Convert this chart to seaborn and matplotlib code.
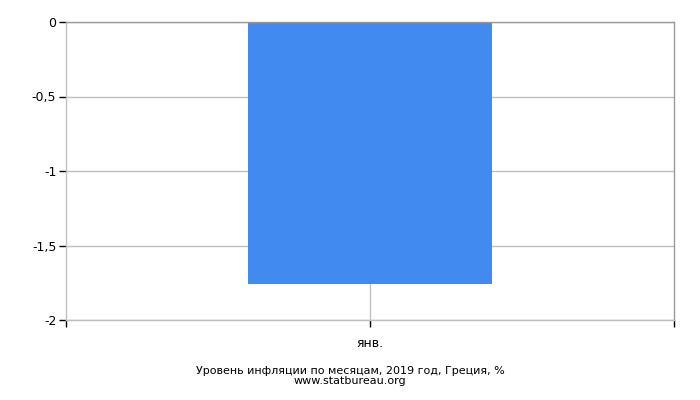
import matplotlib
matplotlib.use("Agg")
import matplotlib.pyplot as plt
import seaborn as sns
import pandas as pd

# data
months = ['янв.']
inflation = [-1.76]
y_ticks = [0, -0.5, -1, -1.5, -2]
y_labels = ['0', '-0,5', '-1', '-1,5', '-2']

sns.set_style('white')
plt.rcParams['font.family'] = ['DejaVu Sans']
plt.rcParams['text.color'] = 'black'

df = pd.DataFrame({'month': months, 'value': inflation})

fig = plt.figure(figsize=(7, 4), dpi=100)
ax = fig.add_axes([66/700, 80/400, 608/700, 298/400])

sns.barplot(data=df, x='month', y='value', color='#418bf0', saturation=1,
            width=0.4, linewidth=0, ax=ax, zorder=2)

ax.set_xlim(-0.5, 0.5)
ax.set_ylim(-2, 0)
ax.set_yticks(y_ticks)
ax.set_yticklabels(y_labels, fontsize=9)
ax.set_xticks([-0.5, 0, 0.5])
ax.set_xticklabels(['', months[0], ''], fontsize=9)
ax.tick_params(axis='both', length=5, width=1, color='black', labelcolor='black',
               direction='out', bottom=True, left=True, pad=2)
ax.tick_params(axis='x', pad=7)
ax.set_xlabel('')
ax.set_ylabel('')

# grid
ax.grid(axis='y', color='#c0c0c0', linewidth=1, zorder=0)
ax.axvline(0, color='#c0c0c0', linewidth=1, zorder=0)
ax.set_axisbelow(True)

ax.spines['top'].set_color('#999999')
ax.spines['right'].set_color('#999999')
ax.spines['left'].set_color('#c0c0c0')
ax.spines['bottom'].set_color('#c0c0c0')
for s in ax.spines.values():
    s.set_linewidth(1)

fig.text(0.5, 1 - 371/400, 'Уровень инфляции по месяцам, 2019 год, Греция, %',
         ha='center', va='center', fontsize=8, color='black')
fig.text(0.5, 1 - 381/400, 'www.statbureau.org', ha='center', va='center',
         fontsize=8, color='black')

fig.savefig('out.png', dpi=100)
